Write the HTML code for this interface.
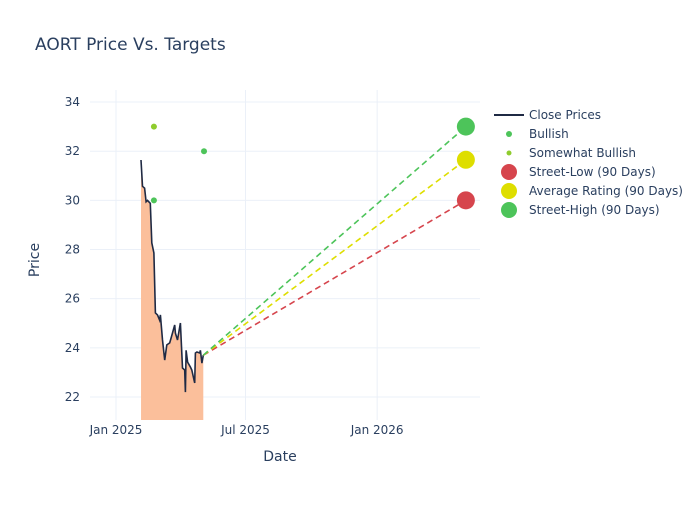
<!DOCTYPE html>
<html><head><meta charset="utf-8"><style>
body{margin:0;background:#fff;font-family:"Liberation Sans","DejaVu Sans",sans-serif}
svg text{font-family:"DejaVu Sans","Liberation Sans",sans-serif;fill:#2a3f5f}
</style></head><body>
<svg id="c" width="700" height="500" xmlns="http://www.w3.org/2000/svg">
<rect width="700" height="500" fill="#fff"/>
<text x="35" y="50" font-size="17">AORT Price Vs. Targets</text>
<g id="grid"></g><g id="marks"></g><g id="axes"></g>
<text x="280" y="461" font-size="14" text-anchor="middle">Date</text>
<text x="39" y="260" font-size="14" text-anchor="middle" transform="rotate(-90 39 260)">Price</text>
<g id="legend"></g>
</svg>
<script>
const closeDates=["2025-02-05","2025-02-07","2025-02-10","2025-02-12","2025-02-14","2025-02-18","2025-02-20","2025-02-23","2025-02-25","2025-02-28","2025-03-03","2025-03-04","2025-03-07","2025-03-10","2025-03-13","2025-03-17","2025-03-19","2025-03-24","2025-03-25","2025-03-28","2025-04-01","2025-04-04","2025-04-07","2025-04-08","2025-04-09","2025-04-11","2025-04-15","2025-04-17","2025-04-21","2025-04-22","2025-04-24","2025-04-28","2025-04-29","2025-05-01","2025-05-03"];
const closeValues=[31.64,30.57,30.5,29.94,30.0,29.88,28.27,27.86,25.42,25.34,25.13,25.34,24.32,23.5,24.12,24.2,24.4,24.93,24.6,24.32,25.01,23.18,23.1,22.2,23.9,23.42,23.22,23.1,22.57,23.79,23.83,23.79,23.9,23.38,23.7];
const bullishDates=["2025-02-23","2025-05-04"];
const bullishValues=[30,32];
const somewhatDates=["2025-02-23"];
const somewhatValues=[33];
const targetDate="2026-05-05";
const targetLow=30, targetAvg=31.65, targetHigh=33;
const yTicks=[22,24,26,28,30,32,34];
const xTickDates=["2025-01-01","2025-07-01","2026-01-01"];
const xTickLabels=["Jan 2025","Jul 2025","Jan 2026"];

const NS="http://www.w3.org/2000/svg";
const L=90,R=480,T=90,B=420;
const d0=Date.parse("2025-01-01");
function X(d){return 116+(Date.parse(d)-d0)/86400000*0.7155;}
function Y(v){return 397-(v-22)*24.58;}
function el(tag,attrs,parent){const e=document.createElementNS(NS,tag);for(const k in attrs)e.setAttribute(k,attrs[k]);parent.appendChild(e);return e;}
const grid=document.getElementById('grid'),marks=document.getElementById('marks'),axes=document.getElementById('axes'),leg=document.getElementById('legend');
yTicks.forEach(v=>{
 const g=el('line',{x1:L,x2:R,y1:Y(v),y2:Y(v),stroke:'#ebf0f8','stroke-width':1},grid);
 
 
 const t=el('text',{x:L-10,y:Y(v)+4,'font-size':12,'text-anchor':'end'},axes);t.textContent=v;
 
 
});
xTickDates.forEach((d,i)=>{
 const g=el('line',{x1:X(d),x2:X(d),y1:T,y2:B,stroke:'#ebf0f8','stroke-width':1},grid);
 
 
 const t=el('text',{x:X(d),y:B+14,'font-size':12,'text-anchor':'middle'},axes);t.textContent=xTickLabels[i];
 
 
});
let pts=closeDates.map((d,i)=>X(d).toFixed(1)+','+Y(closeValues[i]).toFixed(1));
const area=el('polygon',{points:X(closeDates[0])+','+B+' '+pts.join(' ')+' '+X(closeDates[closeDates.length-1])+','+B,fill:'#fbbf9b'},marks);


const line=el('polyline',{points:pts.join(' '),fill:'none',stroke:'#1f2a44','stroke-width':1.6},marks);


const lx=X(closeDates[closeDates.length-1]),ly=Y(closeValues[closeValues.length-1]);
[[targetLow,'#d6454d','street-low'],[targetAvg,'#dede00','average-rating'],[targetHigh,'#4dc45a','street-high']].forEach(([v,c,n])=>{
 const p=el('line',{x1:lx,y1:ly,x2:X(targetDate),y2:Y(v),stroke:c,'stroke-width':1.6,'stroke-dasharray':'6,4'},marks);
 
 
});
[[targetLow,'#d6454d','street-low'],[targetAvg,'#dede00','average-rating'],[targetHigh,'#4dc45a','street-high']].forEach(([v,c,n])=>{
 const m=el('circle',{cx:X(targetDate),cy:Y(v),r:9,fill:c},marks);
 
 
});
bullishDates.forEach((d,i)=>{
 const m=el('circle',{cx:X(d),cy:Y(bullishValues[i]),r:3,fill:'#4dc45a'},marks);
 
 
});
somewhatDates.forEach((d,i)=>{
 const m=el('circle',{cx:X(d),cy:Y(somewhatValues[i]),r:3,fill:'#8fcc2e'},marks);
 
 
});
const items=[['Close Prices','line','#1f2a44'],['Bullish',3,'#4dc45a'],['Somewhat Bullish',2.5,'#8fcc2e'],['Street-Low (90 Days)',8,'#d6454d'],['Average Rating (90 Days)',8,'#dede00'],['Street-High (90 Days)',8,'#4dc45a']];
items.forEach((it,i)=>{
 const y=115+i*19;
 const g=el('g',{},leg);
 
 
 if(it[1]==='line')el('line',{x1:494,x2:524,y1:y,y2:y,stroke:it[2],'stroke-width':2},g);
 else el('circle',{cx:509,cy:y,r:it[1],fill:it[2]},g);
 const t=el('text',{x:529,y:y+4,'font-size':12},g);t.textContent=it[0];
});
</script>
</body></html>
